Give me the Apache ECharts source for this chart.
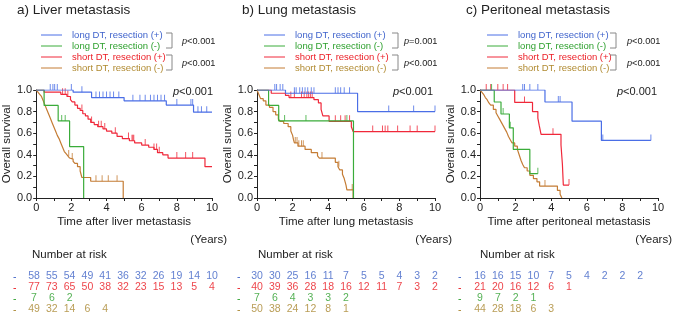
<!DOCTYPE html>
<html><head><meta charset="utf-8">
<script src="https://cdn.jsdelivr.net/npm/echarts@6/dist/echarts.min.js"></script>
<style>html,body{margin:0;padding:0;background:#fff}#c{width:677px;height:319px}</style>
</head><body><div id="c"></div>
<script>
// ---------- DATA ----------
const panelTitles = ['a) Liver metastasis', 'b) Lung metastasis', 'c) Peritoneal metastasis'];
const xAxisNames = ['Time after liver metastasis', 'Time after lung metastasis', 'Time after peritoneal metastasis'];
const groupNames = ['long DT, resection (+)', 'long DT, resection (-)', 'short DT, resection (+)', 'short DT, resection (-)'];
const pairP = [['p<0.001', 'p<0.001'], ['p=0.001', 'p<0.001'], ['p<0.001', 'p<0.001']];
const overallP = ['p<0.001', 'p<0.001', 'p<0.001'];
const riskTimes = [0,1,2,3,4,5,6,7,8,9,10];

// Panel a: Liver
const liverLongRes = [[0,1],[2.1,0.98],[3.15,0.93],[5.0,0.90],[7.4,0.86],[8.95,0.795],[10,0.795]];
const liverLongResCens = [0.8,0.95,1.05,1.2,2.0,2.6,3.4,3.6,3.8,4.0,4.2,4.4,4.7,5.5,5.9,6.2,6.5,6.7,6.9,7.1,7.3,8.0,8.8,8.9,9.2,9.4,9.7];
const liverLongNo = [[0,1],[0.45,0.857],[1.25,0.714],[1.9,0.476],[2.7,0],[2.7,0]];
const liverLongNoCens = [1.45,1.65];
const liverShortRes = [[0,1],[0.45,0.98],[1.4,0.96],[1.75,0.94],[1.95,0.91],[2.05,0.89],[2.2,0.86],[2.35,0.83],[2.5,0.81],[2.65,0.78],[2.8,0.76],[2.95,0.73],[3.1,0.70],[3.3,0.68],[3.5,0.66],[3.8,0.64],[4.0,0.62],[4.3,0.60],[4.6,0.57],[4.9,0.55],[5.3,0.53],[5.6,0.51],[6.0,0.49],[6.4,0.47],[6.7,0.45],[6.9,0.42],[7.2,0.40],[7.5,0.37],[9.6,0.29],[10,0.29]];
const liverShortResCens = [1.5,1.65,1.8,2.6,3.15,3.55,3.7,3.9,4.5,5.25,5.45,5.5,5.55,6.2,6.7,6.85,7.0,8.0,8.5,8.9];
const liverShortNo = [[0,1],[0.1,0.98],[0.2,0.96],[0.3,0.94],[0.4,0.90],[0.5,0.86],[0.6,0.82],[0.7,0.78],[0.8,0.74],[0.9,0.70],[1.0,0.66],[1.1,0.62],[1.2,0.58],[1.3,0.55],[1.4,0.51],[1.5,0.47],[1.6,0.43],[1.7,0.41],[1.8,0.39],[1.9,0.37],[2.0,0.36],[2.1,0.34],[2.2,0.32],[2.35,0.29],[2.5,0.25],[2.6,0.19],[3.1,0.155],[4.95,0],[4.95,0]];
const liverShortNoCens = [1.85,2.05,3.4,3.75,4.1,4.6];
const liverRiskLongRes = [58,55,54,49,41,36,32,26,19,14,10];
const liverRiskShortRes = [77,73,65,50,38,32,23,15,13,5,4];
const liverRiskLongNo = [7,6,2];
const liverRiskShortNo = [49,32,14,6,4];

// Panel b: Lung
const lungLongRes = [[0,1],[1.6,0.97],[5.65,0.80],[10,0.80]];
const lungLongResCens = [1.0,1.1,1.3,1.45,2.1,2.2,2.4,2.55,2.7,2.85,3.05,3.2,4.4,4.55,4.7,4.9,5.2,7.4,8.8,10];
const lungLongNo = [[0,1],[0.65,0.857],[1.22,0.714],[5.42,0],[5.42,0]];
const lungLongNoCens = [1.55,2.75,5.05];
const lungShortRes = [[0,1],[0.8,0.97],[1.6,0.95],[1.8,0.93],[3.2,0.91],[3.45,0.88],[3.6,0.82],[3.7,0.76],[4.05,0.71],[5.3,0.66],[5.4,0.615],[10,0.615]];
const lungShortResCens = [1.9,2.1,2.5,2.65,2.8,2.9,3.0,3.1,4.4,4.7,4.95,5.2,6.5,7.05,7.2,7.35,7.9,8.6,9.0,10];
const lungShortNo = [[0,1],[0.1,0.96],[0.2,0.92],[0.35,0.90],[0.5,0.86],[0.7,0.84],[0.9,0.80],[1.05,0.77],[1.2,0.73],[1.3,0.71],[1.5,0.69],[1.75,0.66],[1.9,0.62],[2.0,0.58],[2.05,0.54],[2.1,0.51],[2.3,0.48],[2.7,0.45],[3.05,0.42],[3.4,0.39],[3.5,0.37],[4.4,0.33],[4.55,0.29],[4.65,0.26],[4.8,0.22],[4.9,0.18],[5.0,0.12],[5.05,0.075],[5.4,0],[5.4,0]];
const lungShortNoCens = [2.15,2.25,2.35,2.5,2.6,3.65,4.6,5.35];
const lungRiskLongRes = [30,30,25,16,11,7,5,5,4,3,2];
const lungRiskShortRes = [40,39,36,28,18,16,12,11,7,3,2];
const lungRiskLongNo = [7,6,4,3,3,2];
const lungRiskShortNo = [50,38,24,12,8,1];

// Panel c: Peritoneal
const periLongRes = [[0,1],[3.65,0.889],[5.17,0.711],[6.82,0.533],[9.6,0.533]];
const periLongResCens = [2.4,2.5,2.8,3.25,4.4,4.5,6.9,9.6];
const periLongNo = [[0,1],[0.8,0.889],[1.18,0.778],[1.65,0.65],[1.87,0.45],[2.8,0.225],[3.25,0.225]];
const periLongNoCens = [0.65,1.3,1.7,3.25];
const periShortRes = [[0,1],[1.95,0.885],[2.95,0.80],[3.25,0.74],[3.33,0.67],[3.43,0.59],[4.55,0.49],[4.63,0.31],[4.68,0.12],[5.0,0.12]];
const periShortResCens = [0.35,0.6,1.0,1.3,1.55,2.5,4.1,5.0];
const periShortNo = [[0,1],[0.1,0.98],[0.2,0.96],[0.3,0.93],[0.4,0.91],[0.5,0.88],[0.6,0.86],[0.75,0.82],[0.9,0.79],[1.0,0.76],[1.1,0.73],[1.2,0.70],[1.3,0.67],[1.4,0.64],[1.5,0.61],[1.6,0.57],[1.7,0.54],[1.8,0.51],[1.95,0.48],[2.1,0.45],[2.2,0.40],[2.3,0.35],[2.4,0.31],[2.5,0.28],[2.65,0.25],[2.8,0.21],[3.0,0.18],[3.2,0.15],[3.35,0.11],[4.35,0.07],[4.5,0.035],[4.6,0],[4.6,0]];
const periShortNoCens = [3.65];
const periRiskLongRes = [16,16,15,10,7,5,4,2,2,2];
const periRiskShortRes = [21,20,16,12,6,1];
const periRiskLongNo = [9,7,2,1];
const periRiskShortNo = [44,28,18,6,3];

// ---------- STYLE ----------
const FONT = '"Liberation Sans", Arial, sans-serif';
const lineColors = ['#4a6ee6', '#3aac3a', '#f0283a', '#c47c34'];
const textColors = ['#3f63cc', '#2ea02e', '#ec1c24', '#b08a30'];
const riskColors = ['#3a5fc4', '#2a9e2a', '#e8141c', '#a8842c'];
const L = [34, 257, 480];
const GW = 178, GT = 90, GH = 108;

const panels = [
  {curves:[liverLongRes, liverLongNo, liverShortRes, liverShortNo], cens:[liverLongResCens, liverLongNoCens, liverShortResCens, liverShortNoCens], risk:[liverRiskLongRes, liverRiskLongNo, liverRiskShortRes, liverRiskShortNo]},
  {curves:[lungLongRes, lungLongNo, lungShortRes, lungShortNo], cens:[lungLongResCens, lungLongNoCens, lungShortResCens, lungShortNoCens], risk:[lungRiskLongRes, lungRiskLongNo, lungRiskShortRes, lungRiskShortNo]},
  {curves:[periLongRes, periLongNo, periShortRes, periShortNo], cens:[periLongResCens, periLongNoCens, periShortResCens, periShortNoCens], risk:[periRiskLongRes, periRiskLongNo, periRiskShortRes, periRiskShortNo]}
];
const riskRowOf = [0, 2, 1, 3];

function stepAt(curve, t) {
  let y = curve[0][1];
  for (const p of curve) { if (p[0] <= t) y = p[1]; }
  return y;
}
function txt(x, y, text, size, fill, extra) {
  return Object.assign({type:'text', x:x, y:y, style:Object.assign({text:text, fontSize:size, fontFamily:FONT, fill:fill, verticalAlign:'middle'}, extra || {})});
}
function pText(x, y, s, size, align) {
  return txt(x, y, '{i|' + s.charAt(0) + '}{n|' + s.slice(1) + '}', size, '#222', {align:align,
    rich:{i:{fontStyle:'italic', fontFamily:FONT, fontSize:size, fill:'#222'}, n:{fontFamily:FONT, fontSize:size, fill:'#222'}}});
}

const grid = [], xAxis = [], yAxis = [], series = [], graphic = [];
panels.forEach((P, i) => {
  grid.push({left: L[i], top: GT, width: GW, height: GH});
  xAxis.push({type:'value', gridIndex:i, min:0, max:10, interval:1,
    name: xAxisNames[i], nameLocation:'middle', nameGap:18,
    nameTextStyle:{fontFamily:FONT, fontSize:11.5, color:'#222'},
    axisLine:{lineStyle:{color:'#222', width:1}}, axisTick:{length:3, lineStyle:{color:'#222'}},
    axisLabel:{fontFamily:FONT, fontSize:11, color:'#222', margin:4, formatter:v => (v % 2 === 0 ? String(v) : '')},
    splitLine:{show:false}});
  yAxis.push({type:'value', gridIndex:i, min:0, max:1, interval:0.1,
    name:'Overall survival', nameLocation:'middle', nameGap:22, nameRotate:90,
    nameTextStyle:{fontFamily:FONT, fontSize:11.5, color:'#222'},
    axisLine:{show:true, lineStyle:{color:'#222', width:1}}, axisTick:{show:true, length:3, lineStyle:{color:'#222'}},
    axisLabel:{fontFamily:FONT, fontSize:11, color:'#222', margin:4,
      formatter:v => (Math.round(v*10) % 2 === 0 ? v.toFixed(1) : '')},
    splitLine:{show:false}});
});
panels.forEach((P, i) => {
  grid.push({left: L[i], top: 271, width: GW, height: 44});
  xAxis.push({type:'value', gridIndex:3+i, min:0, max:10, show:false});
  yAxis.push({type:'category', gridIndex:3+i, data:['0','1','2','3'], inverse:true, show:false});
});

panels.forEach((P, i) => {
  P.curves.forEach((c, g) => {
    series.push({type:'line', xAxisIndex:i, yAxisIndex:i, step:'end', data:c, symbol:'none',
      lineStyle:{color:lineColors[g], width:1.2}, silent:true, animation:false, z:2+(3-g)});
    series.push({type:'scatter', xAxisIndex:i, yAxisIndex:i, data:P.cens[g].map(t => [t, stepAt(c, t)]),
      symbol:'rect', symbolSize:[1, 6], symbolOffset:[0, -3], itemStyle:{color:lineColors[g]}, silent:true, animation:false, z:2+(3-g)});
  });
  const rdata = [];
  P.risk.forEach((arr, g) => {
    arr.forEach((v, k) => rdata.push({value:[riskTimes[k], riskRowOf[g], v], label:{color:riskColors[g]}}));
  });
  series.push({type:'scatter', xAxisIndex:3+i, yAxisIndex:3+i, data:rdata, symbolSize:0, silent:true, animation:false,
    label:{show:true, position:'inside', fontFamily:FONT, fontSize:10.5, formatter:p => String(p.value[2])}});

  const l = L[i];
  graphic.push(txt(l - [17,15,14][i], 10, panelTitles[i], 13.5, '#222'));
  groupNames.forEach((n, g) => {
    const y = 35 + g*11;
    graphic.push({type:'line', shape:{x1:l+7, y1:y, x2:l+28, y2:y}, style:{stroke:lineColors[g], lineWidth:1}});
    graphic.push(txt(l+38, y, n, 9.5, textColors[g]));
  });
  const bx = l + [138, 141, 136][i];
  [[33,48],[55,70]].forEach(([a,b], k) => {
    graphic.push({type:'polyline', shape:{points:[[bx-6,a],[bx,a],[bx,b],[bx-6,b]]}, style:{stroke:'#888', lineWidth:1, fill:null}});
    graphic.push(pText(l+[148,147,147][i], [41,63][k], pairP[i][k], 9.2, 'left'));
  });
  graphic.push(pText(l + [179,176,177][i], 92, overallP[i], 11, 'right'));
  graphic.push(txt(l + [193,195,192][i], 240, '(Years)', 11.5, '#222', {align:'right'}));
  graphic.push(txt(l + [-2,1,0][i], 255, 'Number at risk', 11.5, '#222'));
  const dashColors = [riskColors[0], riskColors[2], riskColors[1], riskColors[3]];
  dashColors.forEach((col, r) => {
    graphic.push(txt(l + [-21,-20,-22][i], 277 + r*11, '-', 10.5, col));
  });
});

const chart = echarts.init(document.getElementById('c'), null, {renderer:'canvas'});
chart.setOption({animation:false, backgroundColor:'#fff', grid, xAxis, yAxis, series, graphic});
</script></body></html>
